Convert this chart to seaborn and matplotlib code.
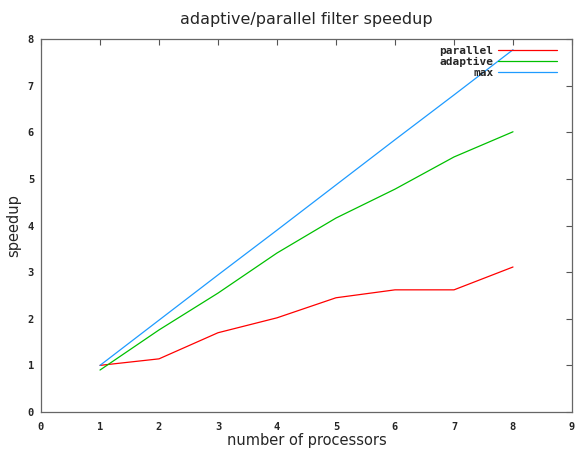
import pandas as pd
import matplotlib
matplotlib.use("Agg")
import matplotlib.pyplot as plt
import seaborn as sns

# values
processors = [1, 2, 3, 4, 5, 6, 7, 8]
parallel = [1.0, 1.14, 1.70, 2.02, 2.45, 2.62, 2.62, 3.11]
adaptive = [0.9, 1.76, 2.55, 3.41, 4.16, 4.78, 5.47, 6.01]
max_speedup = [1.0, 1.97, 2.94, 3.90, 4.87, 5.84, 6.80, 7.77]

series_names = ["parallel", "adaptive", "max"]
series_colors = ["#ff0000", "#00c000", "#1e9bff"]

df = pd.DataFrame({
    "processors": processors * 3,
    "speedup": parallel + adaptive + max_speedup,
    "series": [n for n in series_names for _ in processors],
})

sns.set_style("white")
plt.rcParams['font.family'] = ['DejaVu Sans']

fig = plt.figure(figsize=(5.75, 4.49), dpi=100)
ax = fig.add_axes([41 / 575, 37 / 449, 531 / 575, 373 / 449])

sns.lineplot(data=df, x="processors", y="speedup", hue="series",
             hue_order=series_names, palette=series_colors,
             linewidth=0.9, ax=ax)

ax.set_xlim(0, 9)
ax.set_ylim(0, 8)
ax.set_xticks(range(0, 10))
ax.set_yticks(range(0, 9))

tick_font = {"family": "DejaVu Sans Mono", "weight": "bold", "size": 7.5}
ax.set_xticklabels([str(i) for i in range(10)], fontdict=tick_font)
ax.set_yticklabels([str(i) for i in range(9)], fontdict=tick_font)
ax.tick_params(direction="in", length=4, width=0.8, color="#555555",
               top=True, right=True)
ax.tick_params(axis="x", pad=7)
ax.tick_params(axis="y", pad=5)

for s in ax.spines.values():
    s.set_color("#666666")
    s.set_linewidth(0.9)

ax.set_xlabel("number of processors", fontsize=10.5, labelpad=1)
ax.set_ylabel("speedup", fontsize=10.5)
ax.yaxis.set_label_coords(-0.038, 0.5)
ax.set_title("adaptive/parallel filter speedup", fontsize=11.5, pad=11)

leg = ax.legend(loc="upper right", frameon=False, markerfirst=False,
                prop={"family": "DejaVu Sans Mono", "weight": "bold", "size": 8},
                handlelength=5.3, handletextpad=0.45, labelspacing=0.1,
                bbox_to_anchor=(0.985, 1.0), borderaxespad=0.2)
for t in leg.get_texts():
    t.set_horizontalalignment("right")

fig.savefig("out.png", dpi=100)
